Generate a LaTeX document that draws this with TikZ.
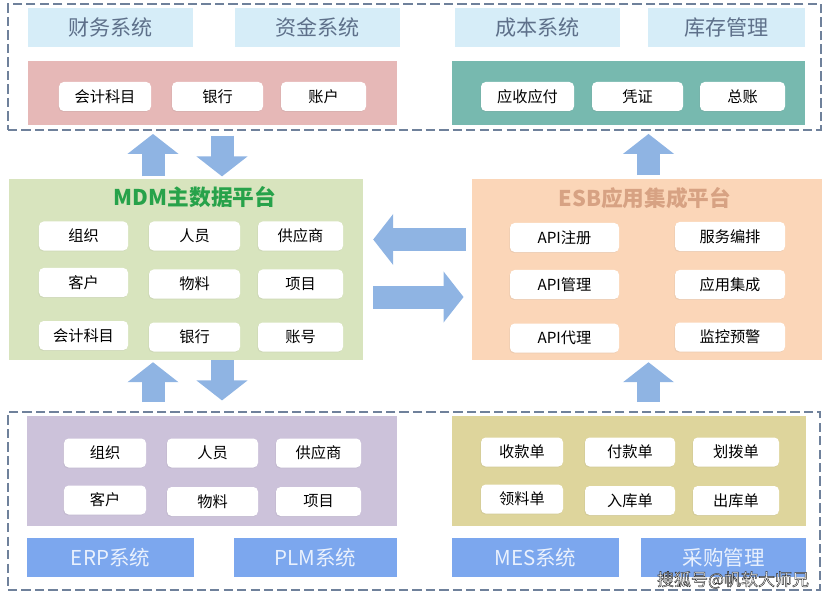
\documentclass[tikz,border=0pt]{standalone}
\usepackage{fontspec}
\setmainfont{Noto Sans CJK SC}
\newfontfamily\wmfont[FakeBold=2.5]{Noto Sans CJK SC}
\usetikzlibrary{arrows.meta,shadows}

\definecolor{frameC}{HTML}{6F819B}
\definecolor{hdrC}{HTML}{D6EDF8}
\definecolor{hdrT}{HTML}{5E708A}
\definecolor{finC}{HTML}{E6B8B7}
\definecolor{costC}{HTML}{77B9AF}
\definecolor{mdmC}{HTML}{D8E4BE}
\definecolor{mdmT}{HTML}{27A24A}
\definecolor{esbC}{HTML}{FBD6B8}
\definecolor{esbT}{HTML}{D7A283}
\definecolor{erpC}{HTML}{CCC2DA}
\definecolor{mesC}{HTML}{DED59C}
\definecolor{sysC}{HTML}{7CA7EE}
\definecolor{sysT}{HTML}{EAF1FD}
\definecolor{arrowC}{HTML}{8FB4E3}

\begin{document}
\begin{tikzpicture}[x=0.03cm,y=-0.03cm,
  frame/.style={draw=frameC,line width=1.7pt,dash pattern=on 8pt off 3.5pt,inner sep=0pt},
  hdr/.style={fill=hdrC,text=hdrT,minimum width=#1,minimum height=1.17cm,inner sep=0pt,font=\fontsize{18}{21}\selectfont},
  sys/.style={fill=sysC,text=sysT,minimum width=#1,minimum height=1.17cm,inner sep=0pt,font=\fontsize{17.5}{20}\selectfont},
  panel/.style={minimum width=#1,inner sep=0pt},
  cell/.style={fill=white,rounded corners=4pt,minimum width=#1,minimum height=0.87cm,inner sep=0pt,
    font=\fontsize{13}{15}\selectfont,drop shadow={opacity=0.12,shadow xshift=-0.6pt,shadow yshift=-0.8pt}},
  title/.style={font=\fontsize{18.5}{21}\selectfont\bfseries},
  bigarrow/.style={draw=arrowC,line width=0.69cm,-{Triangle[width=1.5cm 0,length=0.6cm 0]}}]
  \useasboundingbox (0,0) rectangle (824,599);

  \node[frame,minimum width=24.39cm,minimum height=3.78cm] (topframe) at (414.5,67) {};
  \node[frame,minimum width=24.36cm,minimum height=5.34cm] (botframe) at (414,501) {};

  \node[hdr=4.95cm] (fin) at (110.5,27.5) {财务系统};
  \node[hdr=4.95cm] (fund) at (317.5,27.5) {资金系统};
  \node[hdr=4.95cm] (cost) at (537.5,27.5) {成本系统};
  \node[hdr=4.71cm] (stock) at (726.5,27.5) {库存管理};

  \node[panel=11.07cm,fill=finC,minimum height=1.92cm] (findata) at (212.5,93) {};
  \node[cell=2.76cm] (f1) at (105,96.5) {会计科目};
  \node[cell=2.73cm] (f2) at (217.5,96.5) {银行};
  \node[cell=2.55cm] (f3) at (323.5,96.5) {账户};

  \node[panel=10.59cm,fill=costC,minimum height=1.92cm] (costdata) at (628.5,93) {};
  \node[cell=2.79cm] (c1) at (527.5,96.5) {应收应付};
  \node[cell=2.73cm] (c2) at (637.5,96.5) {凭证};
  \node[cell=2.55cm] (c3) at (742.5,96.5) {总账};

  \node[panel=10.62cm,fill=mdmC,minimum height=5.43cm] (mdm) at (186,269.5) {};
  \node[title,text=mdmT] (mdmtitle) at (195,197) {MDM主数据平台};
  \node[cell=2.67cm] (m1) at (83.5,236) {组织};
  \node[cell=2.73cm] (m2) at (194.5,236) {人员};
  \node[cell=2.55cm] (m3) at (300.5,236) {供应商};
  \node[cell=2.67cm] (m4) at (83.5,282.5) {客户};
  \node[cell=2.73cm] (m5) at (194.5,284) {物料};
  \node[cell=2.55cm] (m6) at (300.5,284) {项目};
  \node[cell=2.67cm] (m7) at (83.5,335.5) {会计科目};
  \node[cell=2.73cm] (m8) at (194.5,337) {银行};
  \node[cell=2.55cm] (m9) at (300.5,337) {账号};

  \node[panel=10.5cm,fill=esbC,minimum height=5.43cm] (esb) at (647,269.5) {};
  \node[title,text=esbT] (esbtitle) at (645,198) {ESB应用集成平台};
  \node[cell=3.27cm] (e1) at (564.5,237.5) {API注册};
  \node[cell=3.3cm] (e2) at (730,236.5) {服务编排};
  \node[cell=3.27cm] (e3) at (564.5,284.5) {API管理};
  \node[cell=3.3cm] (e4) at (730,284.5) {应用集成};
  \node[cell=3.27cm] (e5) at (564.5,338) {API代理};
  \node[cell=3.3cm] (e6) at (730,337) {监控预警};

  \node[panel=11.1cm,fill=erpC,minimum height=3.3cm] (erpdata) at (212,471) {};
  \node[cell=2.46cm] (p1) at (105,453) {组织};
  \node[cell=2.73cm] (p2) at (212.5,453) {人员};
  \node[cell=2.55cm] (p3) at (318.5,453) {供应商};
  \node[cell=2.46cm] (p4) at (105,500) {客户};
  \node[cell=2.73cm] (p5) at (212.5,501.5) {物料};
  \node[cell=2.55cm] (p6) at (318.5,501.5) {项目};

  \node[panel=10.62cm,fill=mesC,minimum height=3.3cm] (mesdata) at (629,471) {};
  \node[cell=2.46cm] (s1) at (522,452) {收款单};
  \node[cell=2.7cm] (s2) at (630,452) {付款单};
  \node[cell=2.58cm] (s3) at (736,452) {划拨单};
  \node[cell=2.46cm] (s4) at (522,499) {领料单};
  \node[cell=2.7cm] (s5) at (630,500.5) {入库单};
  \node[cell=2.58cm] (s6) at (736,500.5) {出库单};

  \node[sys=5.01cm] (erp) at (110.5,557.5) {ERP系统};
  \node[sys=4.89cm] (plm) at (315.5,557.5) {PLM系统};
  \node[sys=5.01cm] (mes) at (535.5,557.5) {MES系统};
  \node[sys=4.95cm] (buy) at (723.5,557.5) {采购管理};

  \coordinate (ua) at (153,0);
  \coordinate (da) at (222,0);
  \coordinate (ea) at (648.5,0);
  \coordinate (la) at (0,239.5);
  \coordinate (ra) at (0,297);

  \draw[bigarrow,shorten <=2pt,shorten >=2.5pt] (mdm.north -| ua) -- (topframe.south -| ua);
  \draw[bigarrow,shorten <=4pt,shorten >=2pt] (topframe.south -| da) -- (mdm.north -| da);
  \draw[bigarrow,shorten <=3pt,shorten >=2.5pt] (esb.north -| ea) -- (topframe.south -| ea);
  \draw[bigarrow,shorten <=5pt,shorten >=8.5pt] (esb.west |- la) -- (mdm.east |- la);
  \draw[bigarrow,shorten <=8.5pt,shorten >=7pt] (mdm.east |- ra) -- (esb.west |- ra);
  \draw[bigarrow,shorten <=7.5pt,shorten >=1.7pt] (botframe.north -| ua) -- (mdm.south -| ua);
  \draw[bigarrow,shorten >=9pt] (mdm.south -| da) -- (botframe.north -| da);
  \draw[bigarrow,shorten <=7.5pt,shorten >=1.7pt] (botframe.north -| ea) -- (esb.south -| ea);

  \node[text=white,font=\wmfont\fontsize{14.5}{17}\selectfont] (mark) at (733,580) {\special{pdf:code 0.15 0.15 0.15 RG}搜狐号@帆软大师兄};
\end{tikzpicture}
\end{document}
